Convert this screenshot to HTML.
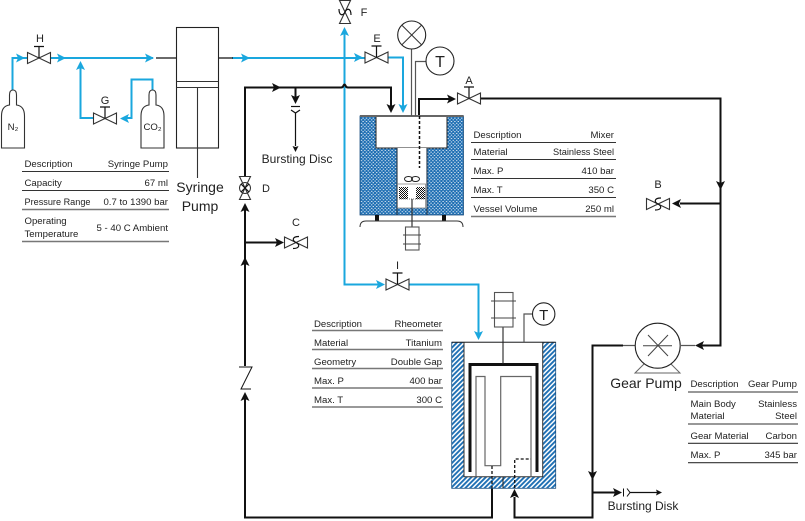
<!DOCTYPE html>
<html>
<head>
<meta charset="utf-8">
<style>
html,body{margin:0;padding:0;background:#fff;width:805px;height:521px;overflow:hidden}
svg{display:block}
text{font-family:"Liberation Sans",sans-serif;font-size:9.6px;fill:#222}
.e{text-anchor:end}
.m{text-anchor:middle}
.l{font-size:11px}
.b{fill:none;stroke:#1aa7de;stroke-width:2}
.k{fill:none;stroke:#111;stroke-width:2}
.t{fill:none;stroke:#111;stroke-width:1.2}
.g{fill:none;stroke:#555;stroke-width:1.2}
.v{fill:#fff;stroke:#333;stroke-width:1.1}
.r{stroke:#333;stroke-width:1.1}
.r2{stroke:#777;stroke-width:1.4}
</style>
</head>
<body>
<svg width="805" height="521" viewBox="0 0 805 521" xmlns="http://www.w3.org/2000/svg">
<defs>
<pattern id="dots" width="3.4" height="3.4" patternUnits="userSpaceOnUse">
<rect width="3.4" height="3.4" fill="#1a6cb2"/>
<rect x="0.4" y="0.4" width="1.4" height="0.9" fill="#fff"/>
<rect x="2" y="2.1" width="1.4" height="0.9" fill="#fff"/>
</pattern>
<pattern id="hatch" width="3.4" height="3.4" patternUnits="userSpaceOnUse" patternTransform="rotate(45)">
<rect width="3.4" height="3.4" fill="#fff"/>
<rect width="1.9" height="3.4" fill="#1f70b4"/>
</pattern>
<pattern id="check" width="2" height="2" patternUnits="userSpaceOnUse">
<rect width="2" height="2" fill="#fff"/>
<rect width="1" height="1" fill="#111"/>
<rect x="1" y="1" width="1" height="1" fill="#111"/>
</pattern>
<polygon id="ak" points="0,0 -9,-4.5 -7,0 -9,4.5" fill="#111"/>
<polygon id="ab" points="0,0 -9,-4.5 -7,0 -9,4.5" fill="#1aa7de"/>
<polygon id="as" points="0,0 -6,-3 -5,0 -6,3" fill="#111"/>
<g id="bow"><polygon class="v" points="-11.5,-5.5 0,0 -11.5,5.5"/><polygon class="v" points="11.5,-5.5 0,0 11.5,5.5"/></g>
<g id="vm"><use href="#bow"/><path class="t" d="M0,0V-11.5M-5,-11.5H5" stroke="#333"/></g>
<g id="vs"><use href="#bow"/><path class="t" d="M3,-6C-4,-6 -4,-2 0,0C4,2 4,6 -3,6"/></g>
<g id="cyl"><path class="v" d="M0,148V116Q0,106 8,105V95Q8,90 11.5,90Q15,90 15,95V105Q23,106 23,116V148Z"/></g>
</defs>

<!-- Blue lines -->
<path class="b" d="M12.5,90V58H27M50,58H153M232,58H365"/>
<path class="b" d="M80.5,66V118H93M152.5,90V79.5H131.5V118H124"/>
<path class="b" d="M388,57.5H403V106"/>
<path class="b" d="M344.5,30V284.5H378M409,284.5H478.5V333"/>

<!-- Black process lines -->
<path class="t" d="M156,58H176M218,58H233"/>
<path class="k" d="M245,176V87.5H341Q343,87.5 343.5,85.5Q344.5,83.5 345.5,85.5Q346,87.5 348,87.5H391V108"/>
<path class="k" d="M419,115V99H450M480,98.5H720.5V345.5H702M720.5,203.5H680"/>
<path class="k" d="M245,210V366M245,398V517.5H492V488M514.5,497V517.5H592.5V345.5H623"/>
<path class="k" d="M245,242.5H277M592.5,492.5H616"/>
<path class="k" d="M295.5,88V98"/>
<path class="t" d="M295.5,113V146M630,492.5H658"/>
<path class="g" d="M623,345.5H635M681,345.5H695"/>

<!-- Arrowheads -->
<use href="#ab" transform="translate(25,58)"/>
<use href="#ab" transform="translate(66,58)"/>
<use href="#ab" transform="translate(154,58)"/>
<use href="#ab" transform="translate(250,58)"/>
<use href="#ab" transform="translate(363,57.5)"/>
<use href="#ab" transform="translate(80.5,61) rotate(-90)"/>
<use href="#ab" transform="translate(120,118.5) rotate(180)"/>
<use href="#ab" transform="translate(344.5,27) rotate(-90)"/>
<use href="#ab" transform="translate(403,113) rotate(90)"/>
<use href="#ab" transform="translate(385,284.5)"/>
<use href="#ab" transform="translate(478.5,340) rotate(90)"/>
<use href="#ak" transform="translate(281,87.5)"/>
<use href="#ak" transform="translate(391,113) rotate(90)"/>
<use href="#ak" transform="translate(295.5,104) rotate(90)"/>
<use href="#as" transform="translate(295.5,152) rotate(90)"/>
<use href="#ak" transform="translate(456,99)"/>
<use href="#ak" transform="translate(720.5,190) rotate(90)"/>
<use href="#ak" transform="translate(672,203.5) rotate(180)"/>
<use href="#ak" transform="translate(245,203) rotate(-90)"/>
<use href="#ak" transform="translate(245,257) rotate(-90)"/>
<use href="#ak" transform="translate(245,392) rotate(-90)"/>
<use href="#ak" transform="translate(284,242.5)"/>
<use href="#ak" transform="translate(695,345.5) rotate(180)"/>
<use href="#ak" transform="translate(592.5,480) rotate(90)"/>
<use href="#ak" transform="translate(622,492.5)"/>
<use href="#as" transform="translate(662,492.5)"/>
<use href="#ak" transform="translate(514.5,489) rotate(-90)"/>

<!-- Cylinders -->
<use href="#cyl" transform="translate(1.5,0)"/>
<use href="#cyl" transform="translate(141,0)"/>
<text x="13" y="130" class="m">N₂</text>
<text x="152.5" y="130" class="m">CO₂</text>

<!-- Valves -->
<use href="#vm" transform="translate(39,58)"/>
<use href="#vm" transform="translate(105,118.5)"/>
<use href="#vm" transform="translate(376.5,57.5)"/>
<use href="#vm" transform="translate(469,98.5)"/>
<use href="#vm" transform="translate(397.5,284.5)"/>
<use href="#vs" transform="translate(296,242.5)"/>
<use href="#vs" transform="translate(658,204)"/>
<g transform="translate(345,12) rotate(90)"><use href="#vs"/></g>
<g transform="translate(245,188) rotate(90)"><use href="#bow"/><circle r="5.5" fill="none" stroke="#333"/><path class="t" d="M-4,-4L4,4M-4,4L4,-4"/></g>

<text x="40" y="42" class="m l">H</text>
<text x="105" y="104" class="m l">G</text>
<text x="377" y="42" class="m l">E</text>
<text x="469" y="84" class="m l">A</text>
<text x="364" y="16" class="m l">F</text>
<text x="266" y="192" class="m l">D</text>
<text x="296" y="226" class="m l">C</text>
<text x="658" y="188" class="m l">B</text>
<text x="397.5" y="269" class="m l">I</text>

<!-- Syringe pump -->
<rect x="176.5" y="27.5" width="42" height="120.5" fill="#fff" stroke="#222" stroke-width="1.1"/>
<path class="r" d="M176.5,81.5H218.5M176.5,87.5H218.5M197.5,87.5V178" fill="none"/>
<text x="200" y="192" class="m" style="font-size:14px">Syringe</text>
<text x="200" y="211" class="m" style="font-size:14px">Pump</text>

<!-- Syringe table -->
<text x="24.5" y="167">Description</text><text x="168" y="167" class="e">Syringe Pump</text>
<text x="24.5" y="186">Capacity</text><text x="168" y="186" class="e">67 ml</text>
<text x="24.5" y="205" textLength="66" lengthAdjust="spacingAndGlyphs">Pressure Range</text><text x="168" y="205" class="e">0.7 to 1390 bar</text>
<text x="24.5" y="224">Operating</text><text x="24.5" y="237">Temperature</text><text x="168" y="231" class="e">5 - 40 C Ambient</text>
<path class="r" d="M22,171.5H169M22,190.5H169"/>
<path class="r2" d="M22,209.5H169M22,241.5H169"/>

<!-- Bursting disc -->
<path class="t" d="M291,106.5H300" />
<path class="t" d="M291,110L295.5,113L300,110" stroke-width="1"/>
<text x="297" y="163" class="m" style="font-size:12px">Bursting Disc</text>

<!-- Mixer vessel -->
<rect x="360" y="116" width="103.5" height="99" fill="url(#dots)" stroke="#1b4f7f" stroke-width="0.8"/>
<rect x="376" y="116" width="71" height="32" fill="#fff"/>
<path d="M376,116V148H447V116" fill="none" stroke="#222" stroke-width="1"/>
<rect x="397" y="148" width="30" height="60" fill="#fff"/>
<path d="M397,148V215M427,148V215" fill="none" stroke="#234" stroke-width="1.1"/>
<path d="M360,116H463.5" stroke="#666" stroke-width="2"/>
<rect x="397.5" y="184" width="28" height="24" fill="#fff" stroke="#888" stroke-width="0.8"/>
<rect x="399" y="187" width="9" height="12" fill="url(#check)"/>
<rect x="416" y="187" width="9" height="12" fill="url(#check)"/>
<path d="M399,199H425" stroke="#444" stroke-width="0.8" stroke-dasharray="1 1"/>
<ellipse cx="408.5" cy="179" rx="4" ry="2.5" fill="none" stroke="#222"/>
<ellipse cx="415.5" cy="179" rx="4" ry="2.5" fill="none" stroke="#222"/>
<path d="M419.5,116V168" stroke="#111" stroke-width="1.5" stroke-dasharray="3 2" fill="none"/>
<path class="g" d="M411.5,49V116M415.5,116V61.5H426"/>
<circle cx="411.7" cy="35" r="14" fill="#fff" stroke="#222" stroke-width="1.1"/>
<path class="t" d="M401.8,25.1L421.6,44.9M401.8,44.9L421.6,25.1" style="stroke:#333;stroke-width:1"/>
<circle cx="440" cy="61" r="14" fill="#fff" stroke="#222" stroke-width="1.1"/>
<text x="440" y="67" class="m" style="font-size:16px">T</text>
<rect x="375" y="215" width="4" height="6" fill="#111"/>
<rect x="442" y="215" width="4" height="6" fill="#111"/>
<path d="M360,227Q360,221 366,221H457Q463,221 463,227" fill="none" stroke="#333" stroke-width="1"/>
<path d="M412,199V227" stroke="#333" stroke-width="1.2"/>
<rect x="405.5" y="227" width="13.5" height="23" fill="#fff" stroke="#555" stroke-width="1.1"/>
<path d="M403,235H421M403,244H421" stroke="#444" stroke-width="1"/>

<!-- Mixer table -->
<text x="473.5" y="138">Description</text><text x="614" y="138" class="e">Mixer</text>
<text x="473.5" y="155">Material</text><text x="614" y="155" class="e" textLength="61" lengthAdjust="spacingAndGlyphs">Stainless Steel</text>
<text x="473.5" y="174">Max. P</text><text x="614" y="174" class="e">410 bar</text>
<text x="473.5" y="193">Max. T</text><text x="614" y="193" class="e">350 C</text>
<text x="473.5" y="212" textLength="64" lengthAdjust="spacingAndGlyphs">Vessel Volume</text><text x="614" y="212" class="e">250 ml</text>
<path class="r" d="M471,142.5H616M471,159.5H616M471,178.5H616M471,197.5H616"/>
<path class="r2" d="M471,216.5H616"/>

<!-- Rheometer table -->
<text x="314" y="327">Description</text><text x="442" y="327" class="e">Rheometer</text>
<text x="314" y="346">Material</text><text x="442" y="346" class="e">Titanium</text>
<text x="314" y="365">Geometry</text><text x="442" y="365" class="e">Double Gap</text>
<text x="314" y="384">Max. P</text><text x="442" y="384" class="e">400 bar</text>
<text x="314" y="403">Max. T</text><text x="442" y="403" class="e">300 C</text>
<path class="r2" d="M312,330.5H443M312,349.5H443M312,368.5H443"/>
<path class="r" d="M312,388H443M312,407H443"/>

<!-- Check valve -->
<path class="t" d="M239,367H252L241,389H251" style="stroke-width:1"/>

<!-- Rheometer -->
<rect x="451.7" y="342.3" width="104" height="146" fill="url(#hatch)" stroke="#1b4f7f" stroke-width="0.8"/>
<rect x="464" y="342.3" width="78.7" height="134.4" fill="#fff"/>
<path d="M464,342.3V476.7H542.7V342.3" fill="none" stroke="#333" stroke-width="1"/>
<path d="M451.7,342.3H555.7M503,476.7V488.3" stroke="#222" stroke-width="1" fill="none"/>
<path d="M470,472V364.5H537V472" fill="none" stroke="#111" stroke-width="3"/>
<path d="M476,476.7V376.5H485V465.7H500.7V376.5H531V476.7" fill="none" stroke="#666" stroke-width="1.2"/>
<path d="M492,466V488" stroke="#111" stroke-width="1.3" stroke-dasharray="3 2"/>
<path d="M514.7,488V459H531" fill="none" stroke="#111" stroke-width="1.3" stroke-dasharray="3 2"/>
<path d="M503,327V364" stroke="#222" stroke-width="1.1"/>
<rect x="494.5" y="292.5" width="18.5" height="34.5" fill="#fff" stroke="#555" stroke-width="1.1"/>
<path d="M491,301H516M491,318H516" stroke="#444" stroke-width="1"/>
<path class="g" d="M524,342V314H532"/>
<circle cx="543.7" cy="314" r="11.2" fill="#fff" stroke="#222" stroke-width="1.1"/>
<text x="543.7" y="320" class="m" style="font-size:15px">T</text>

<!-- Gear pump -->
<path d="M635,373L646,362H669L680,373Z" fill="#fff" stroke="#666" stroke-width="1"/>
<circle cx="657.7" cy="345.7" r="22.5" fill="#fff" stroke="#222" stroke-width="1.1"/>
<path d="M643,345.7H672M648,335L668,356M648,356L668,335" stroke="#444" stroke-width="1" fill="none"/>
<text x="646" y="388" class="m" style="font-size:14px">Gear Pump</text>

<!-- Gear pump table -->
<text x="690.5" y="387">Description</text><text x="797" y="387" class="e">Gear Pump</text>
<text x="690.5" y="407">Main Body</text><text x="690.5" y="419">Material</text>
<text x="797" y="407" class="e">Stainless</text><text x="797" y="419" class="e">Steel</text>
<text x="690.5" y="439">Gear Material</text><text x="797" y="439" class="e">Carbon</text>
<text x="690.5" y="458">Max. P</text><text x="797" y="458" class="e">345 bar</text>
<path class="r2" d="M688,392H798M688,424H798"/>
<path class="r" d="M688,443.3H798M688,462.7H798"/>

<!-- Bursting disk -->
<path class="t" d="M623.5,488.5V496.5M627,488.5L630,492.5L627,496.5" style="stroke-width:1"/>
<text x="643" y="510" class="m" style="font-size:12px">Bursting Disk</text>
</svg>
</body>
</html>
